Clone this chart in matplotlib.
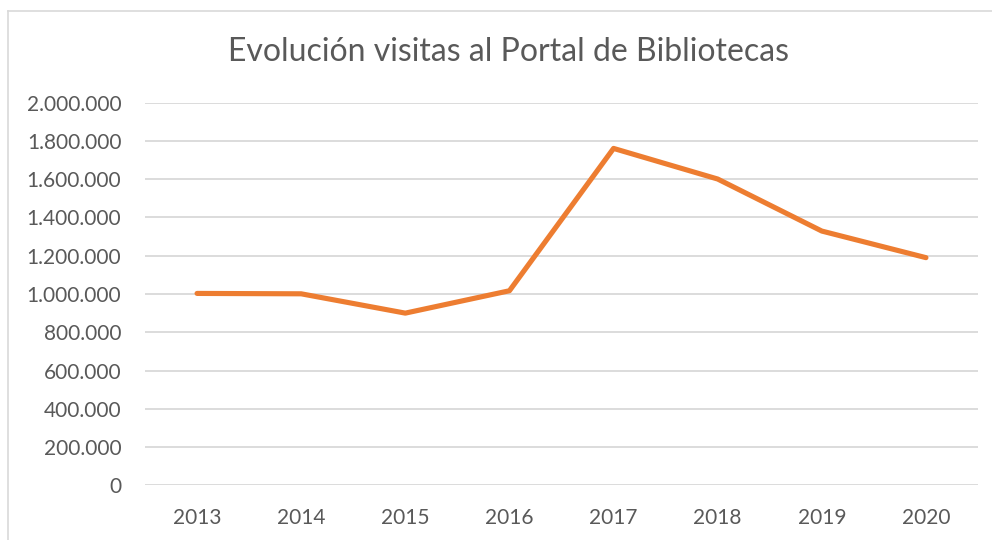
import matplotlib
matplotlib.use("Agg")
import matplotlib.pyplot as plt
from matplotlib.lines import Line2D
from matplotlib.ticker import FuncFormatter

years = ["2013", "2014", "2015", "2016", "2017", "2018", "2019", "2020"]
visits = [1003000, 1001000, 900000, 1017000, 1761000, 1601000, 1329000, 1190000]
title = "Evolución visitas al Portal de Bibliotecas"

plt.rcParams['font.family'] = ['Lato', 'DejaVu Sans']
text_color = "#595959"
grid_color = "#D9D9D9"
line_color = "#ED7D31"

fig = plt.figure(figsize=(9.92, 5.40), dpi=100)
ax = fig.add_axes([145/992, 1 - 485.3/540, (978-145)/992, (485.3-102.7)/540])

x = list(range(len(years)))
ax.plot(x, visits, color=line_color, lw=3.7, solid_capstyle='round', solid_joinstyle='round', zorder=3)

ax.set_xlim(-0.5, len(years) - 0.5)
ax.set_ylim(0, 2000000)
ax.set_yticks(range(0, 2000001, 200000))
ax.yaxis.set_major_formatter(FuncFormatter(lambda v, p: f"{int(v):,}".replace(",", ".")))
ax.set_xticks(x)
ax.set_xticklabels(years)
ax.grid(axis='y', color=grid_color, lw=1.3)
ax.set_axisbelow(True)
for s in ax.spines.values():
    s.set_visible(False)
ax.tick_params(axis='both', length=0, labelsize=15, colors=text_color)
ax.tick_params(axis='y', pad=17)
ax.tick_params(axis='x', pad=16)

fig.text(508/992, 1 - 52/540, title, ha='center', va='center', fontsize=23, color=text_color)

# chart border
fig.add_artist(Line2D([8/992, 1.0], [1 - 11/540, 1 - 11/540], transform=fig.transFigure, color=grid_color, lw=1.2))
fig.add_artist(Line2D([8/992, 8/992], [1 - 11/540, 0.0], transform=fig.transFigure, color=grid_color, lw=1.2))

fig.savefig("out.png", dpi=100, facecolor="white")
